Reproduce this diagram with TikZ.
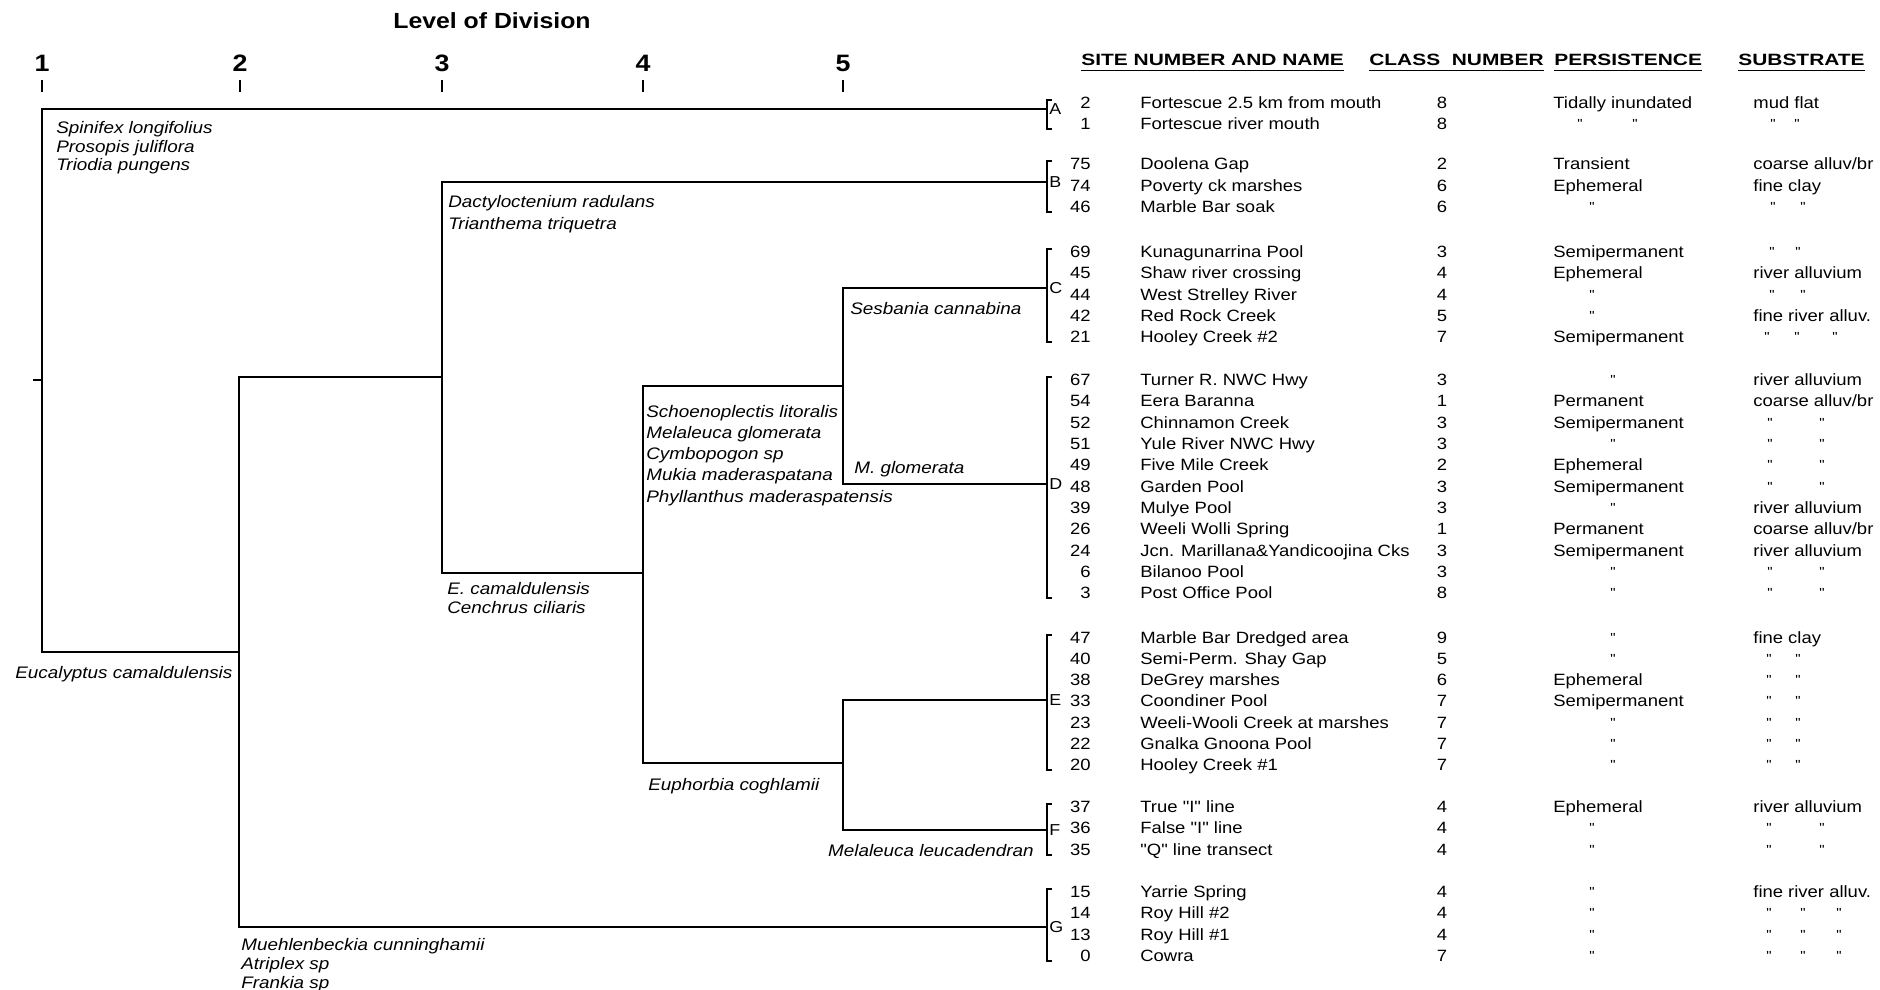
\documentclass[tikz,border=0pt]{standalone}
\usepackage{fontspec}
\setmainfont{Liberation Sans}[FakeStretch=1.13, Ligatures=TeXOff]
\newfontfamily\headfont{Liberation Sans}[FakeStretch=1.28, Ligatures=TeXOff]

\tikzset{
  dendro/.style={line width=0.9pt},
  clusterbrk/.style={line width=0.6pt},
  spec/.style={anchor=base west, inner sep=0pt, align=left, font=\fontsize{9.5}{#1}\selectfont\itshape},
  spec/.default=10.8pt,
  cell/.style={anchor=base west, inner sep=0pt, font=\fontsize{9.3}{11}\selectfont},
  numcell/.style={cell, anchor=base east},
  clscell/.style={cell, anchor=base},
  ditto/.style={inner sep=0pt, font=\fontsize{7.5}{8}\selectfont},
  heading/.style={anchor=base west, inner sep=0pt, font=\headfont\fontsize{9.3}{11}\selectfont\bfseries},
  level/.style={anchor=base, inner sep=0pt, font=\fontsize{13.5}{14}\selectfont\bfseries},
  grpletter/.style={anchor=west, inner sep=0pt, font=\fontsize{9}{10}\selectfont},
}

\begin{document}
\begin{tikzpicture}[x=0.02cm, y=-0.02cm]
    \useasboundingbox (0,0) rectangle (1880,990);

    % Level of division scale
    \node[font=\fontsize{12.5}{14}\selectfont\bfseries] (title) at (492,21) {Level of Division};
    \foreach \x [count=\l] in {42,240,442,643,843} {
        \node[level] (lev\l) at (\x,72) {\l};
        \draw[clusterbrk] (\x,80) -- (\x,92);
    }

    % Column headings
    \node[heading] (hsite) at (1081,66) {SITE NUMBER AND NAME};
    \node[heading] (hclass) at (1369,66) {CLASS\ \ NUMBER};
    \node[heading] (hpers) at (1554,66) {PERSISTENCE};
    \node[heading] (hsub) at (1738,66) {SUBSTRATE};
    \foreach \h in {hsite,hclass,hpers,hsub}
        \draw[line width=0.8pt] ([yshift=-2.4pt]\h.base west) -- ([yshift=-2.4pt]\h.base east);

    % Cluster brackets A-G
    \foreach \g/\t/\b/\m in {A/103/124/109, B/164/207/182, C/252/337/288, D/380/593/484,
                             E/638/765/700, F/807/850/830, G/892/956/927} {
        \draw[clusterbrk] (1052,\t-3) -- (1047,\t-3) -- (1047,\b+5) -- (1052,\b+5);
        \coordinate (k\g) at (1047,\m);
        \node[grpletter] (grp\g) at (1049,\m) {\g};
    }

    % Dendrogram junctions
    \coordinate (root) at (33,380);
    \coordinate (lv1) at (42,380);
    \coordinate (lv1lo) at (42,652);
    \coordinate (lv2in) at (239,652);
    \coordinate (lv2lo) at (239,927);
    \coordinate (lv3in) at (442,377);
    \coordinate (lv3lo) at (442,573);
    \coordinate (lv4in) at (643,573);
    \coordinate (lv4lo) at (643,763);
    \coordinate (lv5in) at (843,386);
    \coordinate (lv5lo) at (843,484);
    \coordinate (lv6in) at (843,763);
    \coordinate (lv6lo) at (843,830);

    \draw[dendro] (root) -- (lv1);
    \draw[dendro] (kA) -| (lv1lo) -- (lv2in);
    \draw[dendro] (lv3in) -| (lv2lo) -- (kG);
    \draw[dendro] (kB) -| (lv3lo) -- (lv4in);
    \draw[dendro] (lv5in) -| (lv4lo) -- (lv6in);
    \draw[dendro] (kC) -| (lv5lo) -- (kD);
    \draw[dendro] (kE) -| (lv6lo) -- (kF);

    % Indicator species (base = baseline of the last line)
    \node[spec] (spinifex) at (56,171) {Spinifex longifolius\\Prosopis juliflora\\Triodia pungens};
    \node[spec=12.2pt] (dactylo) at (448,229) {Dactyloctenium radulans\\Trianthema triquetra};
    \node[spec] (sesbania) at (850,314) {Sesbania cannabina};
    \node[spec=12pt] (schoeno) at (646,502) {Schoenoplectis litoralis\\Melaleuca glomerata\\Cymbopogon sp\\Mukia maderaspatana\\Phyllanthus maderaspatensis};
    \node[spec] (mglom) at (854,473) {M. glomerata};
    \node[spec=10.4pt] (ecamal) at (447,613) {E. camaldulensis\\Cenchrus ciliaris};
    \node[spec] (eucal) at (15,678) {Eucalyptus camaldulensis};
    \node[spec] (euphorb) at (648,790) {Euphorbia coghlamii};
    \node[spec, anchor=base east] (leucad) at (1034,856) {Melaleuca leucadendran};
    \node[spec=10.6pt] (muehlen) at (241,988) {Muehlenbeckia cunninghamii\\Atriplex sp\\Frankia sp};

    % Sites: number, name, class
    \foreach \y/\sn/\nm/\cl in {
        103/2/Fortescue 2.5 km from mouth/8, 124/1/Fortescue river mouth/8,
        164/75/Doolena Gap/2, 186/74/Poverty ck marshes/6, 207/46/Marble Bar soak/6,
        252/69/Kunagunarrina Pool/3, 273/45/Shaw river crossing/4, 295/44/West Strelley River/4,
        316/42/Red Rock Creek/5, 337/21/Hooley Creek \#2/7,
        380/67/Turner R. NWC Hwy/3, 401/54/Eera Baranna/1, 423/52/Chinnamon Creek/3,
        444/51/Yule River NWC Hwy/3, 465/49/Five Mile Creek/2, 487/48/Garden Pool/3,
        508/39/Mulye Pool/3, 529/26/Weeli Wolli Spring/1, 551/24/Jcn. Marillana\&Yandicoojina Cks/3,
        572/6/Bilanoo Pool/3, 593/3/Post Office Pool/8,
        638/47/Marble Bar Dredged area/9, 659/40/Semi-Perm. Shay Gap/5, 680/38/DeGrey marshes/6,
        701/33/Coondiner Pool/7, 723/23/Weeli-Wooli Creek at marshes/7, 744/22/Gnalka Gnoona Pool/7,
        765/20/Hooley Creek \#1/7,
        807/37/True "I" line/4, 828/36/False "I" line/4, 850/35/"Q" line transect/4,
        892/15/Yarrie Spring/4, 913/14/Roy Hill \#2/4, 935/13/Roy Hill \#1/4, 956/0/Cowra/7} {
        \node[numcell] (no\sn) at (1091,\y+5.5) {\sn};
        \node[cell] (site\sn) at (1140,\y+5.5) {\nm};
        \node[clscell] (cls\sn) at (1442,\y+5.5) {\cl};
    }

    % Persistence
    \foreach \y/\p in {103/Tidally inundated, 164/Transient, 186/Ephemeral, 252/Semipermanent,
                       273/Ephemeral, 337/Semipermanent, 401/Permanent, 423/Semipermanent,
                       465/Ephemeral, 487/Semipermanent, 529/Permanent, 551/Semipermanent,
                       680/Ephemeral, 701/Semipermanent, 807/Ephemeral}
        \node[cell] (per\y) at (1553,\y+5.5) {\p};

    % Substrate
    \foreach \y/\s in {103/mud flat, 164/{coarse alluv/br}, 186/fine clay, 273/river alluvium,
                       316/fine river alluv., 380/river alluvium, 401/{coarse alluv/br},
                       508/river alluvium, 529/{coarse alluv/br}, 551/river alluvium,
                       638/fine clay, 807/river alluvium, 892/fine river alluv.}
        \node[cell] (sub\y) at (1753,\y+5.5) {\s};

    % Ditto marks
    \foreach \x/\y [count=\k] in {
        1580/124, 1635/124, 1592/207, 1592/295, 1592/316,
        1613/380, 1613/444, 1613/508, 1613/572, 1613/593,
        1613/638, 1613/659, 1613/723, 1613/744, 1613/765,
        1592/828, 1592/850, 1592/892, 1592/913, 1592/935, 1592/956,
        1773/124, 1797/124, 1773/207, 1803/207, 1772/252, 1798/252,
        1772/295, 1803/295, 1767/337, 1797/337, 1835/337,
        1770/423, 1822/423, 1770/444, 1822/444, 1770/465, 1822/465, 1770/487, 1822/487,
        1770/572, 1822/572, 1770/593, 1822/593,
        1769/659, 1798/659, 1769/680, 1798/680, 1769/701, 1798/701,
        1769/723, 1798/723, 1769/744, 1798/744, 1769/765, 1798/765,
        1769/828, 1822/828, 1769/850, 1822/850,
        1769/913, 1803/913, 1839/913, 1769/935, 1803/935, 1839/935,
        1769/956, 1803/956, 1839/956}
        \node[ditto] (dit\k) at (\x,\y) {"};
\end{tikzpicture}
\end{document}
